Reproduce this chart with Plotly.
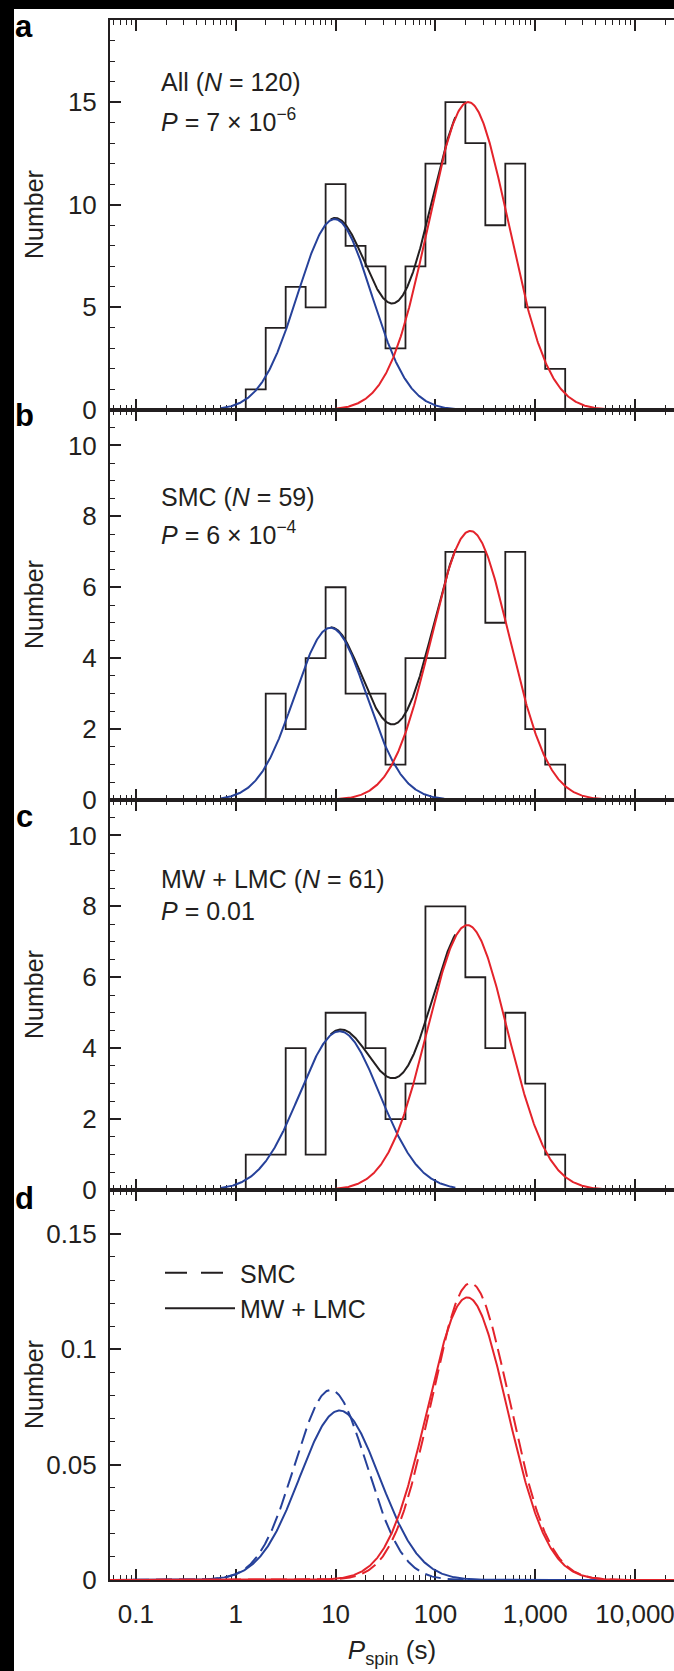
import numpy as np
import plotly.graph_objects as go

# ---------------- values ----------------
# histogram bin edges in log10(P_spin / s)
bin_edges_log = [0.1, 0.3, 0.5, 0.7, 0.9, 1.1, 1.3, 1.5, 1.7, 1.9, 2.1, 2.3, 2.5, 2.7, 2.9, 3.1, 3.3]
counts_all = [1, 4, 6, 5, 11, 8, 7, 3, 7, 12, 15, 13, 9, 12, 5, 2]
counts_smc = [0, 3, 2, 4, 6, 3, 3, 1, 4, 4, 7, 7, 5, 7, 2, 1]
counts_mwlmc = [1, 1, 4, 1, 5, 5, 4, 2, 3, 8, 8, 6, 4, 5, 3, 1]

sample_names = ["All", "SMC", "MW + LMC"]
sample_sizes = [120, 59, 61]
p_values = ["7 × 10<sup>−6</sup>", "6 × 10<sup>−4</sup>", "0.01"]

# two-Gaussian fit components in log10(P): peak (number per bin), centre, width
blue_peak = [9.3, 4.86, 4.48]
blue_centre = [0.99, 0.95, 1.04]
blue_width = [0.37, 0.36, 0.40]
red_peak = [15.0, 7.59, 7.47]
red_centre = [2.33, 2.35, 2.32]
red_width = [0.40, 0.39, 0.40]

# log10(P) extent over which the fitted curves are drawn in panels a-c
blue_extent = [-0.15, 2.2]
red_extent = [1.0, 3.8]
sum_extent = [0.95, 2.2]

x_range_log = [-1.26, 4.39]
x_tick_values = [0.1, 1, 10, 100, 1000, 10000]
x_tick_labels = ["0.1", "1", "10", "100", "1,000", "10,000"]

y_ranges = [[0, 19], [0, 11], [0, 11], [0, 0.169]]
y_tick_values = [[0, 5, 10, 15], [0, 2, 4, 6, 8, 10], [0, 2, 4, 6, 8, 10], [0, 0.05, 0.1, 0.15]]
y_tick_labels = [["0", "5", "10", "15"], ["0", "2", "4", "6", "8", "10"],
                 ["0", "2", "4", "6", "8", "10"], ["0", "0.05", "0.1", "0.15"]]
y_minor_step = [1, 0.5, 0.5, 0.01]
panel_letters = ["a", "b", "c", "d"]

# ---------------- styling ----------------
BLUE = "#26419a"
RED = "#e4232b"
INK = "#231f20"
FONT = "Liberation Sans, Arial, sans-serif"
W, H = 674, 1671
ML, MR, MT, MB = 110, 0, 20, 91
PW, PH = W - ML - MR, H - MT - MB


def gauss(lx, a, mu, s):
    lx = np.asarray(lx)
    return a * np.exp(-0.5 * ((lx - mu) / s) ** 2)


def px_x(px):
    return (px - ML) / PW


def px_y(py):
    return (H - MB - py) / PH


fig = go.Figure()
hist_counts = [counts_all, counts_smc, counts_mwlmc]
edges = np.power(10.0, bin_edges_log)

for i in range(3):
    xa = "x" if i == 0 else f"x{i + 1}"
    ya = "y" if i == 0 else f"y{i + 1}"
    hx = [edges[0]] + list(edges[:-1]) + [edges[-1]]
    hy = [0] + list(hist_counts[i]) + [0]
    fig.add_trace(go.Scatter(x=hx, y=hy, mode="lines", xaxis=xa, yaxis=ya,
                             line=dict(color=INK, width=1.8, shape="hv"),
                             showlegend=False, hoverinfo="skip"))
    # total fit (drawn beneath the components)
    ls = np.linspace(sum_extent[0], sum_extent[1], 400)
    ysum = gauss(ls, blue_peak[i], blue_centre[i], blue_width[i]) + gauss(ls, red_peak[i], red_centre[i], red_width[i])
    fig.add_trace(go.Scatter(x=10 ** ls, y=ysum, mode="lines", xaxis=xa, yaxis=ya,
                             line=dict(color=INK, width=2), showlegend=False))
    lb = np.linspace(blue_extent[0], blue_extent[1], 400)
    fig.add_trace(go.Scatter(x=10 ** lb, y=gauss(lb, blue_peak[i], blue_centre[i], blue_width[i]),
                             mode="lines", xaxis=xa, yaxis=ya, line=dict(color=BLUE, width=2),
                             showlegend=False))
    lr = np.linspace(red_extent[0], red_extent[1], 400)
    fig.add_trace(go.Scatter(x=10 ** lr, y=gauss(lr, red_peak[i], red_centre[i], red_width[i]),
                             mode="lines", xaxis=xa, yaxis=ya, line=dict(color=RED, width=2),
                             showlegend=False))

# panel d: fitted components normalised by sample size
lf = np.linspace(x_range_log[0], x_range_log[1], 800)
for j, dash in [(1, "16px,7px"), (2, "solid")]:
    fig.add_trace(go.Scatter(x=10 ** lf, y=gauss(lf, blue_peak[j], blue_centre[j], blue_width[j]) / sample_sizes[j],
                             mode="lines", xaxis="x4", yaxis="y4", line=dict(color=BLUE, width=2, dash=dash),
                             showlegend=False))
for j, dash in [(1, "16px,7px"), (2, "solid")]:
    fig.add_trace(go.Scatter(x=10 ** lf, y=gauss(lf, red_peak[j], red_centre[j], red_width[j]) / sample_sizes[j],
                             mode="lines", xaxis="x4", yaxis="y4", line=dict(color=RED, width=2, dash=dash),
                             showlegend=False))
# legend keys
fig.add_trace(go.Scatter(x=[None], y=[None], mode="lines", name="SMC", xaxis="x4", yaxis="y4",
                         line=dict(color=INK, width=2, dash="22px,14px")))
fig.add_trace(go.Scatter(x=[None], y=[None], mode="lines", name="MW + LMC", xaxis="x4", yaxis="y4",
                         line=dict(color=INK, width=2)))

minor_x = [m * 10.0 ** k for k in range(-2, 5) for m in range(2, 10)
           if x_range_log[0] <= np.log10(m * 10.0 ** k) <= x_range_log[1]]

layout = dict(width=W, height=H, autosize=False,
              margin=dict(l=ML, r=MR, t=MT, b=MB, pad=0),
              paper_bgcolor="white", plot_bgcolor="white",
              font=dict(family=FONT, size=25, color=INK),
              showlegend=True)

for i in range(4):
    sx = "" if i == 0 else str(i + 1)
    dom = [0.75 - 0.25 * i, 1.0 - 0.25 * i]
    layout[f"xaxis{sx}"] = dict(
        type="log", range=x_range_log, anchor=f"y{sx}",
        tickmode="array", tickvals=x_tick_values, ticktext=x_tick_labels,
        showticklabels=(i == 3), ticks="inside", ticklen=11, tickwidth=1.5, tickcolor=INK,
        minor=dict(tickmode="array", tickvals=minor_x, ticks="inside", ticklen=5, tickwidth=1.3, tickcolor=INK),
        showline=True, linecolor=INK, linewidth=2, mirror="ticks",
        showgrid=False, zeroline=False, layer="below traces",
        ticklabelstandoff=10, ticklabeloverflow="allow", tickfont=dict(size=26, color=INK),
        **({"matches": "x"} if i > 0 else {}))
    layout[f"yaxis{sx}"] = dict(
        domain=dom, range=y_ranges[i], anchor=f"x{sx}",
        tickmode="array", tickvals=y_tick_values[i], ticktext=y_tick_labels[i],
        ticks="inside", ticklen=11, tickwidth=1.5, tickcolor=INK,
        minor=dict(dtick=y_minor_step[i], tick0=0, ticks="inside", ticklen=5, tickwidth=1.3, tickcolor=INK),
        showline=True, linecolor=INK, linewidth=2, mirror=False,
        showgrid=False, zeroline=False, layer="below traces",
        ticklabelstandoff=6, ticklabeloverflow="allow", tickfont=dict(size=26, color=INK))
    # right-hand tick marks (no axis line)
    layout[f"yaxis{i + 5}"] = dict(
        overlaying=f"y{sx}", side="right", anchor=f"x{sx}", range=y_ranges[i],
        tickmode="array", tickvals=y_tick_values[i], ticks="inside", ticklen=6, tickwidth=1.5,
        tickcolor=INK, showticklabels=False, showline=False, showgrid=False, zeroline=False)

layout["xaxis4"]["title"] = dict(text="<i>P</i><sub>spin</sub> (s)", font=dict(size=26, color=INK), standoff=13)

annotations = []
text_rows = [(82, 120), (497, 533), (879, 911)]
for i in range(3):
    annotations.append(dict(xref="paper", yref="paper", x=px_x(159), y=px_y(text_rows[i][0]),
                            xanchor="left", yanchor="middle", showarrow=False,
                            text=f"{sample_names[i]} (<i>N</i> = {sample_sizes[i]})", font=dict(size=25)))
    annotations.append(dict(xref="paper", yref="paper", x=px_x(159), y=px_y(text_rows[i][1]),
                            xanchor="left", yanchor="middle", showarrow=False,
                            text=f"<i>P</i> = {p_values[i]}", font=dict(size=25)))
letter_y = [27, 415, 816, 1198]
for i in range(4):
    annotations.append(dict(xref="paper", yref="paper", x=px_x(24), y=px_y(letter_y[i]),
                            xanchor="center", yanchor="middle", showarrow=False,
                            text=f"<b>{panel_letters[i]}</b>", font=dict(size=31, color="black")))
    annotations.append(dict(xref="paper", yref="paper", x=px_x(34), y=1.0 - 0.25 * i - 0.125,
                            xanchor="center", yanchor="middle", showarrow=False, textangle=-90,
                            text="Number", font=dict(size=25)))
layout["annotations"] = annotations

layout["legend"] = dict(x=px_x(160), y=px_y(1250), xanchor="left", yanchor="top",
                        bgcolor="rgba(0,0,0,0)", font=dict(size=25), itemwidth=70,
                        tracegroupgap=0, traceorder="normal")

# black scan border (left and top)
layout["shapes"] = [
    dict(type="rect", xref="paper", yref="paper", x0=px_x(0), x1=px_x(14), y0=px_y(H), y1=px_y(0),
         fillcolor="black", line=dict(width=0), layer="above"),
    dict(type="rect", xref="paper", yref="paper", x0=px_x(0), x1=px_x(W), y0=px_y(9), y1=px_y(0),
         fillcolor="black", line=dict(width=0), layer="above"),
]

fig.update_layout(**layout)
fig.write_html("out.html")
